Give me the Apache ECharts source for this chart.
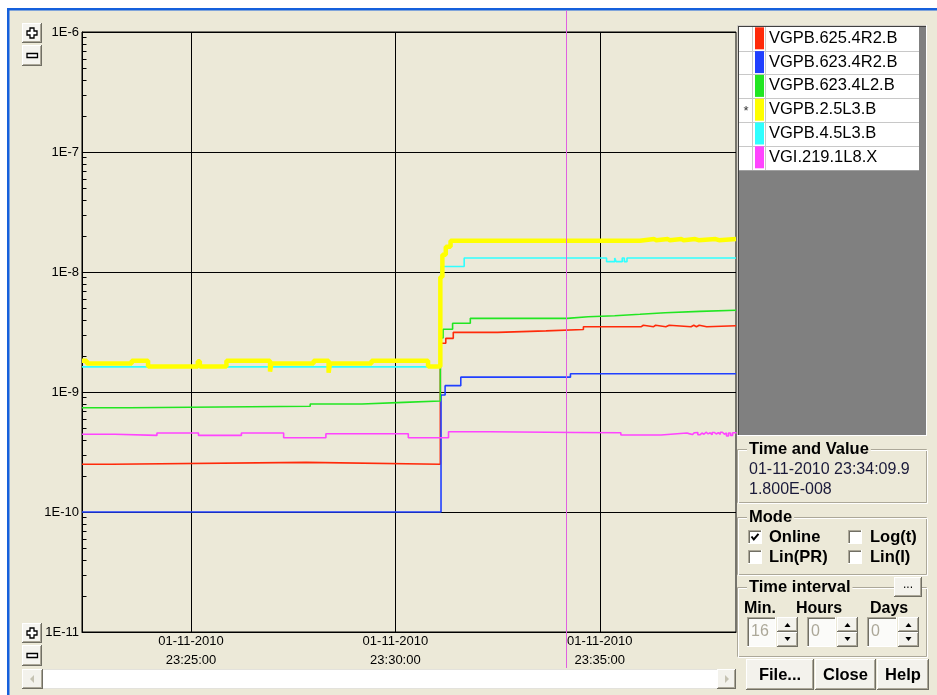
<!DOCTYPE html>
<html><head><meta charset="utf-8">
<script src="https://cdn.jsdelivr.net/npm/echarts@6/dist/echarts.min.js"></script>
<style>html,body{margin:0;padding:0;background:#fff;}#c{width:937px;height:695px;}</style>
</head><body><div id="c"></div>
<script>
// ---------- data ----------
const legendNames = ['VGPB.625.4R2.B','VGPB.623.4R2.B','VGPB.623.4L2.B','VGPB.2.5L3.B','VGPB.4.5L3.B','VGI.219.1L8.X'];
const timeStart = '23:22:20';
const timeEnd = '23:38:20';
const xTickTimes = ['23:25:00','23:30:00','23:35:00'];
const xTickDate = '01-11-2010';
const yTickLabels = ['1E-11','1E-10','1E-9','1E-8','1E-7','1E-6'];
const cursorTime = '23:34:09.9';
const cursorValueText = '1.800E-008';
const intervalMin = '16', intervalHours = '0', intervalDays = '0';

const redTimes = ['23:22:20','23:23:04','23:27:49','23:31:06','23:31:14','23:31:25','23:32:30','23:33:41','23:34:36','23:36:01','23:36:04','23:36:19','23:36:22','23:36:37','23:36:42','23:37:14','23:37:18','23:37:22','23:37:26','23:37:37','23:38:20'];
const redValues = [2.50e-10,2.59e-10,2.50e-10,2.55e-9,2.80e-9,3.14e-9,3.23e-9,3.32e-9,3.50e-9,3.60e-9,3.50e-9,3.60e-9,3.50e-9,3.60e-9,3.50e-9,3.60e-9,3.50e-9,3.60e-9,3.50e-9,3.57e-9,3.57e-9];

const blueTimes = ['23:22:20','23:31:07','23:31:13','23:31:36','23:34:17','23:38:20'];
const blueValues = [1.00e-10,9.44e-10,1.13e-9,1.33e-9,1.42e-9,1.42e-9];

const greenTimes = ['23:22:20','23:23:30','23:27:55','23:29:11','23:30:12','23:31:06','23:31:10','23:31:24','23:31:50','23:34:12','23:34:43','23:35:22','23:35:59','23:36:36','23:37:27','23:38:20'];
const greenValues = [7.39e-10,7.60e-10,7.94e-10,8.20e-10,8.41e-10,2.82e-9,3.33e-9,3.74e-9,4.11e-9,4.24e-9,4.32e-9,4.44e-9,4.58e-9,4.70e-9,4.80e-9,4.80e-9];

const yellowTimes = ['23:22:20','23:22:27','23:23:33','23:23:57','23:25:10','23:25:13','23:25:52','23:26:56','23:26:58','23:28:00','23:28:22','23:28:24','23:29:25','23:30:48','23:31:06','23:31:09','23:31:14','23:31:21','23:35:59','23:36:20','23:36:23','23:36:40','23:36:43','23:37:00','23:37:03','23:37:20','23:37:25','23:37:50','23:37:55','23:38:20'];
const yellowValues = [1.82e-9,1.73e-9,1.82e-9,1.63e-9,1.80e-9,1.63e-9,1.82e-9,1.48e-9,1.73e-9,1.82e-9,1.45e-9,1.73e-9,1.82e-9,1.63e-9,9.1e-9,1.39e-8,1.62e-8,1.82e-8,1.88e-8,1.84e-8,1.88e-8,1.84e-8,1.88e-8,1.84e-8,1.88e-8,1.84e-8,1.88e-8,1.84e-8,1.88e-8,1.88e-8];

const cyanTimes = ['23:22:20','23:31:07','23:31:41','23:35:10','23:35:22','23:35:24','23:35:33','23:35:36','23:35:40','23:38:20'];
const cyanValues = [1.62e-9,1.11e-8,1.31e-8,1.22e-8,1.31e-8,1.22e-8,1.31e-8,1.22e-8,1.31e-8,1.31e-8];

const magentaTimes = ['23:22:20','23:23:08','23:24:10','23:25:11','23:26:14','23:27:16','23:28:18','23:30:19','23:31:18','23:32:19','23:34:25','23:35:31','23:36:30','23:37:08','23:37:11','23:37:13','23:37:16','23:37:19','23:37:21','23:37:24','23:37:27','23:37:30','23:37:33','23:37:36','23:37:39','23:37:42','23:37:45','23:37:48','23:37:51','23:37:54','23:37:57','23:38:00','23:38:03','23:38:06','23:38:09','23:38:12','23:38:15','23:38:20'];
const magentaValues = [4.44e-10,4.35e-10,4.55e-10,4.35e-10,4.55e-10,4.16e-10,4.49e-10,4.16e-10,4.67e-10,4.60e-10,4.58e-10,4.38e-10,4.55e-10,4.50e-10,4.62e-10,4.42e-10,4.58e-10,4.46e-10,4.60e-10,4.40e-10,4.55e-10,4.45e-10,4.62e-10,4.48e-10,4.57e-10,4.40e-10,4.60e-10,4.47e-10,4.58e-10,4.44e-10,4.62e-10,4.45e-10,4.56e-10,4.30e-10,4.55e-10,4.35e-10,4.58e-10,4.50e-10];

// ---------- helpers ----------
function toSec(s){ const p = s.split(':'); return (+p[0])*3600 + (+p[1])*60 + parseFloat(p[2]); }
function pairs(ts, vs){ return ts.map((t,i)=>[toSec(t), vs[i]]); }
const xMin = toSec(timeStart), xMax = toSec(timeEnd);
const FONT = '"Liberation Sans", Arial, sans-serif';

const colors = { red:'#ff2a0a', blue:'#2040ff', green:'#22e622', yellow:'#ffff00', cyan:'#30ffff', magenta:'#ff44ff' };

// log minor tick positions (2..9 per decade)
const minorTickValues = [];
for (let k=-11;k<-6;k++) for (let m=2;m<=9;m++) minorTickValues.push(m*Math.pow(10,k));

function lineSeries(name, ts, vs, color, width, z){
  return { name, type:'line', step:'end', data:pairs(ts,vs), showSymbol:false, symbol:'none',
    lineStyle:{color, width}, itemStyle:{color}, z, silent:true, clip:true };
}

const chart = echarts.init(document.getElementById('c'), null, {renderer:'canvas'});
chart.setOption({
  animation:false,
  backgroundColor:'#ECE9D8',
  grid:{left:82, top:32, right:201, bottom:63, show:true, borderColor:'#000', borderWidth:1, backgroundColor:'transparent'},
  legend:{
    data:legendNames, orient:'vertical', left:755, top:27.3, padding:0, icon:'rect',
    itemWidth:9, itemHeight:22, itemGap:1.8, itemTextGap:5, selectedMode:false,
    itemStyle:{borderWidth:0},
    textStyle:{fontSize:16.5, fontFamily:FONT, color:'#000'}
  },
  xAxis:{
    type:'value', min:xMin, max:xMax,
    axisLine:{show:true, lineStyle:{color:'#000', width:1}},
    axisTick:{show:false, customValues:xTickTimes.map(toSec)},
    splitLine:{show:false},
    axisLabel:{
      customValues:xTickTimes.map(toSec), margin:0, fontSize:13, lineHeight:19, fontFamily:FONT, color:'#000',
      formatter:(v)=>{ const i = xTickTimes.map(toSec).indexOf(v); return xTickDate + '\n' + (i>=0 ? xTickTimes[i] : ''); }
    }
  },
  yAxis:{
    type:'log', logBase:10, min:1e-11, max:1e-6,
    axisLine:{show:true, lineStyle:{color:'#000', width:1}},
    axisTick:{show:false},
    splitLine:{show:true, lineStyle:{color:'#000', width:1}},
    axisLabel:{margin:3, fontSize:13, fontFamily:FONT, color:'#000',
      formatter:(v)=>yTickLabels[Math.round(Math.log10(v))+11]}
  },
  series:[
    { name:'gridlines', type:'line', data:[], silent:true, z:1,
      markLine:{ silent:true, symbol:'none', z:1, label:{show:false}, animation:false,
        lineStyle:{color:'#000', width:1, type:'solid'},
        data:xTickTimes.map(t=>({xAxis:toSec(t)})) }
    },
    lineSeries(legendNames[0], redTimes, redValues, colors.red, 1.6, 4),
    lineSeries(legendNames[1], blueTimes, blueValues, colors.blue, 1.6, 5),
    lineSeries(legendNames[2], greenTimes, greenValues, colors.green, 1.6, 6),
    lineSeries(legendNames[5], magentaTimes, magentaValues, colors.magenta, 1.6, 7),
    lineSeries(legendNames[4], cyanTimes, cyanValues, colors.cyan, 1.6, 8),
    lineSeries(legendNames[3], yellowTimes, yellowValues, colors.yellow, 4.5, 9)
  ]
});

// ---------- window chrome drawn with graphic ----------
const G = [];
function R(x,y,w,h,fill,stroke,lw,z){ G.push({type:'rect', silent:true, z:z||0, shape:{x,y,width:w,height:h}, style:{fill:fill||'none', stroke:stroke||'none', lineWidth:lw||1}}); }
function L(x1,y1,x2,y2,stroke,lw,z){ G.push({type:'line', silent:true, z:z||0, shape:{x1,y1,x2,y2}, style:{stroke, lineWidth:lw||1}}); }
function T(x,y,text,size,weight,fill,align,extra,z){ G.push({type:'text', silent:true, z:z||10, x, y, style:Object.assign({text, fontSize:size, fontWeight:weight||'normal', fontFamily:FONT, fill:fill||'#000', align:align||'left', verticalAlign:'middle'}, extra||{})}); }
function P(points, fill, stroke, lw, z){ G.push({type:'polygon', silent:true, z:z||5, shape:{points}, style:{fill:fill||'none', stroke:stroke||'none', lineWidth:lw||1}}); }
function raised(x,y,w,h,face){
  R(x,y,w,h,face||'#ECE9D8');
  L(x,y+0.5,x+w,y+0.5,'#ffffff'); L(x+0.5,y,x+0.5,y+h,'#ffffff');
  L(x,y+h-0.5,x+w,y+h-0.5,'#716f64'); L(x+w-0.5,y,x+w-0.5,y+h,'#716f64');
  L(x+1,y+h-1.5,x+w-1,y+h-1.5,'#aca899'); L(x+w-1.5,y+1,x+w-1.5,y+h-1,'#aca899');
}
function sunken(x,y,w,h,fill){
  R(x,y,w,h,fill||'#fff');
  L(x,y+0.5,x+w,y+0.5,'#aca899'); L(x+0.5,y,x+0.5,y+h,'#aca899');
  L(x+1,y+1.5,x+w-1,y+1.5,'#716f64'); L(x+1.5,y+1,x+1.5,y+h-1,'#716f64');
  L(x,y+h-0.5,x+w,y+h-0.5,'#ffffff'); L(x+w-0.5,y,x+w-0.5,y+h,'#ffffff');
}
function group(x,y,w,h,title){
  R(x+0.5,y+0.5,w-1,h-1,'none','#aca899');
  R(x+1.5,y+1.5,w-1,h-1,'none','#ffffff');
  T(x+10,y,title,16.5,'bold','#000','left',{backgroundColor:'#ECE9D8', padding:[0,2,0,2]});
}

// window frame
R(0,0,937,8,'#ffffff'); R(0,0,7,695,'#ffffff');
R(7,8,930,2.5,'#1560dc'); R(7,8,2.5,687,'#1560dc');

// y-axis minor ticks at log positions
const axX = chart.convertToPixel({xAxisIndex:0}, xMin);
minorTickValues.forEach(v=>{
  const py = Math.round(chart.convertToPixel({yAxisIndex:0}, v)) + 0.5;
  L(axX, py, axX+4.5, py, '#000', 1, 30);
});

// zoom buttons
function plusBtn(x,y){ raised(x,y,20,20,'#f5f4ef'); const cx=x+10, cy=y+10;
  P([[cx-2,cy-5],[cx+2,cy-5],[cx+2,cy-2],[cx+5,cy-2],[cx+5,cy+2],[cx+2,cy+2],[cx+2,cy+5],[cx-2,cy+5],[cx-2,cy+2],[cx-5,cy+2],[cx-5,cy-2],[cx-2,cy-2]],'#fff','#000',1.3); }
function minusBtn(x,y){ raised(x,y,20,21,'#f5f4ef'); P([[x+5,y+8.5],[x+15.5,y+8.5],[x+15.5,y+12.5],[x+5,y+12.5]],'#fff','#000',1.3); }
plusBtn(22,23); minusBtn(22,45);
plusBtn(22,623); minusBtn(22,645);

// scrollbar
R(43,669,674,20,'#ffffff'); L(43,669.5,717,669.5,'#e3e2dc'); L(43,688.5,717,688.5,'#e3e2dc');
raised(22,669,21,20,'#f3f2ec'); P([[30,679],[34,675],[34,683]],'#c5c2b2');
raised(717,669,19,20,'#f3f2ec'); P([[729,679],[725,675],[725,683]],'#c5c2b2');

// legend box
R(737,25,190,411,'#808080');
L(737,25.5,927,25.5,'#d4d0c8'); L(737.5,25,737.5,436,'#d4d0c8');
L(738,26.5,926,26.5,'#404040'); L(738.5,26,738.5,435,'#404040');
L(737,435.5,927,435.5,'#ffffff'); L(926.5,25,926.5,436,'#ffffff');
R(739,27,180,143,'#ffffff');
[50.7,74,98.3,122.3,146].forEach(y=>L(739,Math.round(y)+0.5,919,Math.round(y)+0.5,'#c8c8c8'));
L(739,170.5,919,170.5,'#a0a0a0');
L(752.5,27,752.5,170,'#c8c8c8'); L(765.5,27,765.5,170,'#c8c8c8');
T(746,111,'*',13,'normal','#333','center');

// Time and Value
group(737,449,190,54,'Time and Value');
T(749,469.5,xTickDate+' '+cursorTime,16,'normal','#1a1a3a');
T(749,489.5,cursorValueText,16,'normal','#1a1a3a');

// Mode
group(737,517,190,58,'Mode');
function checkbox(x,y,checked){ sunken(x,y,14,14,'#fff'); if (checked) G.push({type:'polyline', silent:true, z:6, shape:{points:[[x+3.5,y+6.5],[x+5.8,y+9.5],[x+10.5,y+3.8]]}, style:{stroke:'#000', lineWidth:2, fill:'none'}}); }
checkbox(748,530,true); checkbox(848,530,false); checkbox(748,550,false); checkbox(848,550,false);
T(769,537,'Online',16.5,'bold'); T(870,537,'Log(t)',16.5,'bold');
T(769,557,'Lin(PR)',16.5,'bold'); T(870,557,'Lin(I)',16.5,'bold');

// Time interval
group(737,587,190,70,'Time interval');
raised(894,577,28,20,'#f3f2ec'); T(908,585,'...',12,'normal','#000','center');
T(744,609,'Min.',16,'bold'); T(796,609,'Hours',16,'bold'); T(870,609,'Days',16,'bold');
function spin(x,w,val){
  sunken(x,617,w,30,'#fbfbf9'); T(x+4,632,val,16,'normal','#aca899');
  const ax = x+w+1;
  raised(ax,617,21,15,'#f3f2ec'); raised(ax,632,21,15,'#f3f2ec');
  const c = ax+10.5; P([[c-3,627],[c+3,627],[c,623]],'#000'); P([[c-3,637],[c+3,637],[c,641]],'#000');
}
spin(747,29,intervalMin); spin(807,29,intervalHours); spin(867,30,intervalDays);

// buttons
raised(746,659,68,31,'#f3f2ec'); T(780,675,'File...',16.5,'bold','#000','center');
raised(815,659,61,31,'#f3f2ec'); T(845.5,675,'Close',16.5,'bold','#000','center');
raised(877,659,52,31,'#f3f2ec'); T(903,675,'Help',16.5,'bold','#000','center');

// cursor line
const cx = Math.round(chart.convertToPixel({xAxisIndex:0}, toSec(cursorTime))) + 0.5;
L(cx,10.5,cx,668,'#e060e0',1,20);

chart.setOption({graphic:G});
</script></body></html>
